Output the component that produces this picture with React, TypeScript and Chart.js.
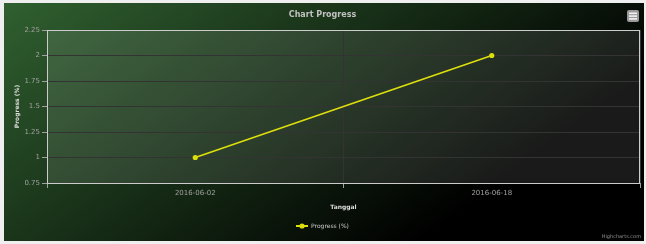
import React, { useEffect, useRef } from "react";
import { Chart, registerables } from "chart.js";

Chart.register(...registerables);

const categories = ["2016-06-02", "2016-06-18"];
const progressValues = [1, 2];
const yTickValues = [0.75, 1, 1.25, 1.5, 1.75, 2, 2.25];
const yTickLabels = ["0.75", "1", "1.25", "1.5", "1.75", "2", "2.25"];
const chartTitle = "Chart Progress";
const seriesName = "Progress (%)";
const xAxisTitle = "Tanggal";
const yAxisTitle = "Progress (%)";
const creditsText = "Highcharts.com";

const FONT = "'DejaVu Sans', Verdana, sans-serif";
const SERIES_COLOR = "#DDDF0D";

function makeLegendSymbol(): HTMLCanvasElement {
  const c = document.createElement("canvas");
  c.width = 12;
  c.height = 6;
  const g = c.getContext("2d")!;
  g.strokeStyle = SERIES_COLOR;
  g.lineWidth = 2;
  g.beginPath();
  g.moveTo(0, 3);
  g.lineTo(12, 3);
  g.stroke();
  g.fillStyle = SERIES_COLOR;
  g.beginPath();
  g.arc(6, 3, 2.6, 0, Math.PI * 2);
  g.fill();
  return c;
}

const decorPlugin = {
  id: "hcDecor",
  beforeDraw(chart: any) {
    const { ctx, width, height, chartArea } = chart;
    ctx.save();
    const grad = ctx.createLinearGradient(0, 0, 249, 354);
    grad.addColorStop(0, "rgb(48, 96, 48)");
    grad.addColorStop(1, "rgb(0, 0, 0)");
    ctx.fillStyle = grad;
    ctx.fillRect(0, 0, width, height);
    ctx.fillStyle = "rgba(255, 255, 255, 0.1)";
    ctx.fillRect(
      chartArea.left,
      chartArea.top,
      chartArea.right - chartArea.left,
      chartArea.bottom - chartArea.top
    );
    ctx.restore();
  },
  beforeDatasetsDraw(chart: any) {
    const { ctx, chartArea } = chart;
    ctx.save();
    ctx.strokeStyle = "#CCCCCC";
    ctx.lineWidth = 1;
    const l = Math.round(chartArea.left) + 0.5;
    const t = Math.round(chartArea.top) + 0.5;
    const r = Math.round(chartArea.right) - 0.5;
    const b = Math.round(chartArea.bottom) + 0.5;
    ctx.strokeRect(l, t, r - l, b - t);
    ctx.restore();
  },
  afterDraw(chart: any) {
    const { ctx, width, height } = chart;
    ctx.save();
    const bx = width - 17;
    const by = 7;
    ctx.fillStyle = "#9a9a9a";
    ctx.beginPath();
    ctx.roundRect(bx, by, 12, 12, 2);
    ctx.fill();
    ctx.fillStyle = "#f2f2f2";
    ctx.fillRect(bx + 2, by + 2.5, 8, 1.6);
    ctx.fillRect(bx + 2, by + 5.3, 8, 1.6);
    ctx.fillRect(bx + 2, by + 8.1, 8, 1.6);
    ctx.fillStyle = "#909090";
    ctx.font = `5px ${FONT}`;
    ctx.textAlign = "right";
    ctx.textBaseline = "middle";
    ctx.fillText(creditsText, width - 3, height - 4);
    ctx.restore();
  },
};

export default function App() {
  const canvasRef = useRef<HTMLCanvasElement | null>(null);

  useEffect(() => {
    document.body.style.margin = "0";
    const canvas = canvasRef.current!;
    const legendSymbol = makeLegendSymbol();
    const chart = new Chart(canvas, {
      type: "line",
      data: {
        labels: categories,
        datasets: [
          {
            label: seriesName,
            data: progressValues,
            borderColor: SERIES_COLOR,
            backgroundColor: SERIES_COLOR,
            borderWidth: 1.7,
            pointRadius: 2.6,
            pointBackgroundColor: SERIES_COLOR,
            pointBorderWidth: 0,
            tension: 0,
          },
        ],
      },
      options: {
        animation: false,
        responsive: false,
        maintainAspectRatio: false,
        layout: { padding: { top: 0, left: 0, right: 3, bottom: 2 } },
        plugins: {
          title: {
            display: true,
            text: chartTitle,
            color: "#C0C0C0",
            font: { family: FONT, size: 8, weight: "bold" },
            padding: { top: 7.2, bottom: 10.2 },
          },
          legend: {
            display: true,
            position: "bottom",
            labels: {
              color: "#CCCCCC",
              font: { family: FONT, size: 6 },
              usePointStyle: true,
              pointStyle: legendSymbol as any,
              pointStyleWidth: 12,
              padding: 12,
            },
          },
          tooltip: { enabled: false },
        },
        scales: {
          x: {
            type: "category",
            offset: true,
            grid: {
              offset: true,
              color: "#333333",
              lineWidth: 1,
              tickColor: "#A0A0A0",
              tickLength: 5,
              drawTicks: true,
            },
            border: { display: true, color: "#A0A0A0" },
            ticks: {
              color: "#A0A0A0",
              font: { family: FONT, size: 7 },
              padding: 1,
              maxRotation: 0,
            },
            title: {
              display: true,
              text: xAxisTitle,
              color: "#DDDDDD",
              font: { family: FONT, size: 6, weight: "bold" },
              padding: { top: 0, bottom: 0 },
            },
            afterFit: (scale: any) => {
              scale.height = 28;
            },
          },
          y: {
            min: 0.75,
            max: 2.25,
            grid: {
              color: "#333333",
              lineWidth: 1,
              tickColor: "#A0A0A0",
              tickLength: 5,
            },
            border: { display: false },
            ticks: {
              color: "#A0A0A0",
              font: { family: FONT, size: 7 },
              padding: 2,
              callback: (value: any) => {
                const i = yTickValues.indexOf(Number(value));
                return i >= 0 ? yTickLabels[i] : String(value);
              },
            },
            afterBuildTicks: (scale: any) => {
              scale.ticks = yTickValues.map((v) => ({ value: v }));
            },
            title: {
              display: true,
              text: yAxisTitle,
              color: "#DDDDDD",
              font: { family: FONT, size: 6, weight: "bold" },
              padding: { top: 10, bottom: 0 },
            },
            afterFit: (scale: any) => {
              scale.width = 43;
            },
          },
        },
      },
      plugins: [decorPlugin],
    });
    return () => chart.destroy();
  }, []);

  return (
    <div
      style={{
        position: "fixed",
        left: 0,
        top: 0,
        width: 646,
        height: 244,
        background: "#efefef",
      }}
    >
      <canvas
        ref={canvasRef}
        width={640}
        height={238}
        style={{ position: "absolute", left: 4, top: 3, width: 640, height: 238 }}
      />
    </div>
  );
}
